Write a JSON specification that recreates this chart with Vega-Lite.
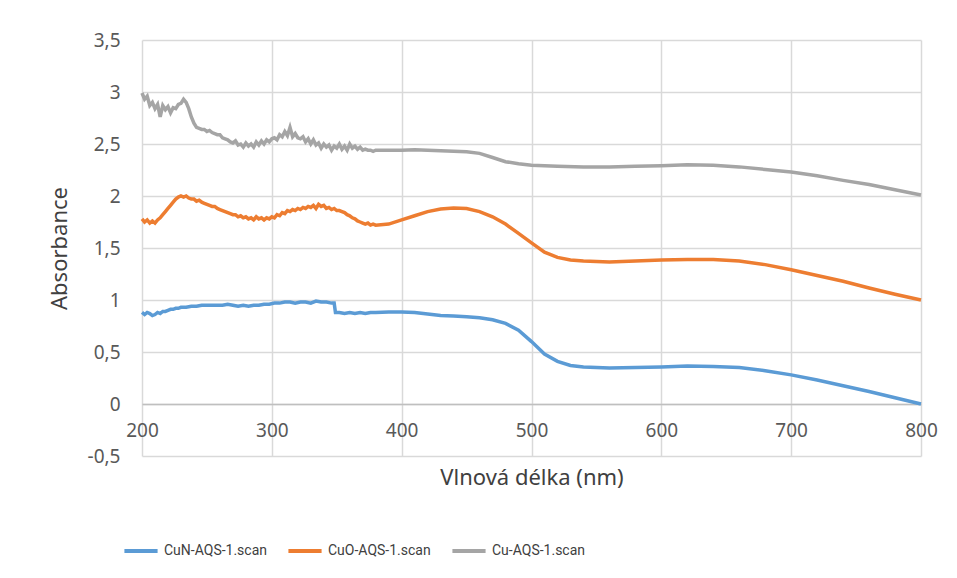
{
  "$schema": "https://vega.github.io/schema/vega-lite/v6.json",
  "autosize": {"type": "none"},
  "padding": {"left": 142, "top": 40, "right": 36, "bottom": 122},
  "width": 779,
  "height": 416,
  "background": "white",
  "config": {
    "view": {"stroke": null},
    "font": "Noto Sans"
  },
  "datasets": {
    "cun": [
      {"nm":200,"abs":0.88},{"nm":202,"abs":0.86},{"nm":204,"abs":0.88},{"nm":206,"abs":0.87},{"nm":208,"abs":0.85},{"nm":210,"abs":0.86},{"nm":212,"abs":0.88},{"nm":214,"abs":0.87},{"nm":216,"abs":0.89},{"nm":218,"abs":0.89},{"nm":220,"abs":0.9},{"nm":222,"abs":0.91},{"nm":224,"abs":0.91},{"nm":226,"abs":0.92},{"nm":228,"abs":0.92},{"nm":230,"abs":0.93},{"nm":234,"abs":0.93},{"nm":238,"abs":0.94},{"nm":242,"abs":0.94},{"nm":246,"abs":0.95},{"nm":250,"abs":0.95},{"nm":254,"abs":0.95},{"nm":258,"abs":0.95},{"nm":262,"abs":0.95},{"nm":266,"abs":0.96},{"nm":270,"abs":0.95},{"nm":274,"abs":0.94},{"nm":278,"abs":0.95},{"nm":282,"abs":0.94},{"nm":286,"abs":0.95},{"nm":290,"abs":0.95},{"nm":294,"abs":0.96},{"nm":298,"abs":0.96},{"nm":302,"abs":0.97},{"nm":306,"abs":0.97},{"nm":310,"abs":0.98},{"nm":314,"abs":0.98},{"nm":318,"abs":0.97},{"nm":322,"abs":0.98},{"nm":326,"abs":0.98},{"nm":330,"abs":0.97},{"nm":334,"abs":0.99},{"nm":338,"abs":0.98},{"nm":342,"abs":0.98},{"nm":346,"abs":0.97},{"nm":348,"abs":0.97},{"nm":349,"abs":0.88},{"nm":352,"abs":0.88},{"nm":356,"abs":0.87},{"nm":360,"abs":0.88},{"nm":364,"abs":0.87},{"nm":368,"abs":0.88},{"nm":372,"abs":0.87},{"nm":376,"abs":0.88},{"nm":380,"abs":0.88},{"nm":390,"abs":0.885},{"nm":400,"abs":0.885},{"nm":410,"abs":0.88},{"nm":420,"abs":0.865},{"nm":430,"abs":0.85},{"nm":440,"abs":0.845},{"nm":450,"abs":0.84},{"nm":460,"abs":0.83},{"nm":470,"abs":0.81},{"nm":480,"abs":0.775},{"nm":490,"abs":0.71},{"nm":500,"abs":0.6},{"nm":510,"abs":0.48},{"nm":520,"abs":0.41},{"nm":530,"abs":0.37},{"nm":540,"abs":0.355},{"nm":560,"abs":0.345},{"nm":580,"abs":0.35},{"nm":600,"abs":0.355},{"nm":620,"abs":0.365},{"nm":640,"abs":0.36},{"nm":660,"abs":0.35},{"nm":680,"abs":0.32},{"nm":700,"abs":0.28},{"nm":720,"abs":0.23},{"nm":740,"abs":0.175},{"nm":760,"abs":0.12},{"nm":780,"abs":0.06},{"nm":800,"abs":0.0}
    ],
    "cuo": [
      {"nm":200,"abs":1.78},{"nm":202,"abs":1.75},{"nm":204,"abs":1.77},{"nm":206,"abs":1.74},{"nm":208,"abs":1.76},{"nm":210,"abs":1.74},{"nm":212,"abs":1.77},{"nm":214,"abs":1.79},{"nm":216,"abs":1.82},{"nm":218,"abs":1.85},{"nm":220,"abs":1.88},{"nm":222,"abs":1.91},{"nm":224,"abs":1.94},{"nm":226,"abs":1.97},{"nm":228,"abs":1.99},{"nm":230,"abs":2.0},{"nm":232,"abs":1.99},{"nm":234,"abs":2.0},{"nm":236,"abs":1.98},{"nm":238,"abs":1.97},{"nm":240,"abs":1.97},{"nm":242,"abs":1.95},{"nm":244,"abs":1.96},{"nm":246,"abs":1.94},{"nm":248,"abs":1.93},{"nm":250,"abs":1.92},{"nm":252,"abs":1.91},{"nm":254,"abs":1.9},{"nm":256,"abs":1.9},{"nm":258,"abs":1.88},{"nm":260,"abs":1.87},{"nm":262,"abs":1.86},{"nm":264,"abs":1.85},{"nm":266,"abs":1.84},{"nm":268,"abs":1.83},{"nm":270,"abs":1.82},{"nm":272,"abs":1.82},{"nm":274,"abs":1.8},{"nm":276,"abs":1.81},{"nm":278,"abs":1.79},{"nm":280,"abs":1.8},{"nm":282,"abs":1.78},{"nm":284,"abs":1.79},{"nm":286,"abs":1.77},{"nm":288,"abs":1.8},{"nm":290,"abs":1.78},{"nm":292,"abs":1.79},{"nm":294,"abs":1.77},{"nm":296,"abs":1.79},{"nm":298,"abs":1.78},{"nm":300,"abs":1.8},{"nm":302,"abs":1.79},{"nm":304,"abs":1.82},{"nm":306,"abs":1.81},{"nm":308,"abs":1.84},{"nm":310,"abs":1.83},{"nm":312,"abs":1.86},{"nm":314,"abs":1.85},{"nm":316,"abs":1.87},{"nm":318,"abs":1.86},{"nm":320,"abs":1.88},{"nm":322,"abs":1.87},{"nm":324,"abs":1.89},{"nm":326,"abs":1.88},{"nm":328,"abs":1.9},{"nm":330,"abs":1.89},{"nm":332,"abs":1.91},{"nm":334,"abs":1.88},{"nm":336,"abs":1.92},{"nm":338,"abs":1.9},{"nm":340,"abs":1.91},{"nm":342,"abs":1.88},{"nm":344,"abs":1.89},{"nm":346,"abs":1.87},{"nm":348,"abs":1.88},{"nm":350,"abs":1.86},{"nm":352,"abs":1.86},{"nm":354,"abs":1.85},{"nm":356,"abs":1.84},{"nm":358,"abs":1.82},{"nm":360,"abs":1.81},{"nm":362,"abs":1.79},{"nm":364,"abs":1.78},{"nm":366,"abs":1.76},{"nm":368,"abs":1.75},{"nm":370,"abs":1.74},{"nm":372,"abs":1.73},{"nm":374,"abs":1.74},{"nm":376,"abs":1.72},{"nm":378,"abs":1.73},{"nm":380,"abs":1.72},{"nm":390,"abs":1.73},{"nm":400,"abs":1.77},{"nm":410,"abs":1.81},{"nm":420,"abs":1.85},{"nm":430,"abs":1.875},{"nm":440,"abs":1.885},{"nm":450,"abs":1.88},{"nm":460,"abs":1.85},{"nm":470,"abs":1.8},{"nm":480,"abs":1.73},{"nm":490,"abs":1.64},{"nm":500,"abs":1.55},{"nm":510,"abs":1.46},{"nm":520,"abs":1.41},{"nm":530,"abs":1.385},{"nm":540,"abs":1.375},{"nm":560,"abs":1.365},{"nm":580,"abs":1.375},{"nm":600,"abs":1.385},{"nm":620,"abs":1.39},{"nm":640,"abs":1.39},{"nm":660,"abs":1.375},{"nm":680,"abs":1.34},{"nm":700,"abs":1.29},{"nm":720,"abs":1.235},{"nm":740,"abs":1.18},{"nm":760,"abs":1.115},{"nm":780,"abs":1.055},{"nm":800,"abs":1.0}
    ],
    "cu": [
      {"nm":200,"abs":2.99},{"nm":202,"abs":2.93},{"nm":204,"abs":2.96},{"nm":206,"abs":2.87},{"nm":208,"abs":2.9},{"nm":210,"abs":2.84},{"nm":212,"abs":2.88},{"nm":214,"abs":2.76},{"nm":216,"abs":2.87},{"nm":218,"abs":2.83},{"nm":220,"abs":2.86},{"nm":222,"abs":2.8},{"nm":224,"abs":2.85},{"nm":226,"abs":2.84},{"nm":228,"abs":2.88},{"nm":230,"abs":2.89},{"nm":232,"abs":2.93},{"nm":234,"abs":2.9},{"nm":236,"abs":2.84},{"nm":238,"abs":2.76},{"nm":240,"abs":2.7},{"nm":242,"abs":2.66},{"nm":244,"abs":2.65},{"nm":246,"abs":2.64},{"nm":248,"abs":2.64},{"nm":250,"abs":2.62},{"nm":252,"abs":2.63},{"nm":254,"abs":2.61},{"nm":256,"abs":2.6},{"nm":258,"abs":2.59},{"nm":260,"abs":2.59},{"nm":262,"abs":2.56},{"nm":264,"abs":2.55},{"nm":266,"abs":2.54},{"nm":268,"abs":2.52},{"nm":270,"abs":2.51},{"nm":272,"abs":2.53},{"nm":274,"abs":2.49},{"nm":276,"abs":2.5},{"nm":278,"abs":2.47},{"nm":280,"abs":2.51},{"nm":282,"abs":2.48},{"nm":284,"abs":2.5},{"nm":286,"abs":2.47},{"nm":288,"abs":2.52},{"nm":290,"abs":2.49},{"nm":292,"abs":2.53},{"nm":294,"abs":2.5},{"nm":296,"abs":2.54},{"nm":298,"abs":2.52},{"nm":300,"abs":2.55},{"nm":302,"abs":2.56},{"nm":304,"abs":2.54},{"nm":306,"abs":2.59},{"nm":308,"abs":2.57},{"nm":310,"abs":2.62},{"nm":312,"abs":2.58},{"nm":314,"abs":2.66},{"nm":316,"abs":2.57},{"nm":318,"abs":2.6},{"nm":320,"abs":2.56},{"nm":322,"abs":2.55},{"nm":324,"abs":2.57},{"nm":326,"abs":2.52},{"nm":328,"abs":2.55},{"nm":330,"abs":2.5},{"nm":332,"abs":2.54},{"nm":334,"abs":2.49},{"nm":336,"abs":2.51},{"nm":338,"abs":2.46},{"nm":340,"abs":2.5},{"nm":342,"abs":2.47},{"nm":344,"abs":2.49},{"nm":346,"abs":2.44},{"nm":348,"abs":2.48},{"nm":350,"abs":2.46},{"nm":352,"abs":2.5},{"nm":354,"abs":2.45},{"nm":356,"abs":2.48},{"nm":358,"abs":2.44},{"nm":360,"abs":2.5},{"nm":362,"abs":2.46},{"nm":364,"abs":2.48},{"nm":366,"abs":2.45},{"nm":368,"abs":2.47},{"nm":370,"abs":2.44},{"nm":372,"abs":2.45},{"nm":374,"abs":2.44},{"nm":376,"abs":2.44},{"nm":378,"abs":2.43},{"nm":380,"abs":2.44},{"nm":390,"abs":2.44},{"nm":400,"abs":2.44},{"nm":410,"abs":2.445},{"nm":420,"abs":2.44},{"nm":430,"abs":2.435},{"nm":440,"abs":2.43},{"nm":450,"abs":2.425},{"nm":460,"abs":2.41},{"nm":470,"abs":2.37},{"nm":480,"abs":2.33},{"nm":490,"abs":2.31},{"nm":500,"abs":2.295},{"nm":510,"abs":2.29},{"nm":520,"abs":2.285},{"nm":540,"abs":2.28},{"nm":560,"abs":2.28},{"nm":580,"abs":2.285},{"nm":600,"abs":2.29},{"nm":620,"abs":2.3},{"nm":640,"abs":2.295},{"nm":660,"abs":2.28},{"nm":680,"abs":2.255},{"nm":700,"abs":2.23},{"nm":720,"abs":2.195},{"nm":740,"abs":2.15},{"nm":760,"abs":2.11},{"nm":780,"abs":2.06},{"nm":800,"abs":2.01}
    ]
  },
  "encoding": {
    "x": {
      "field": "nm", "type": "quantitative",
      "scale": {"domain": [200, 800], "nice": false, "zero": false},
      "axis": {
        "title": "Vlnová délka (nm)",
        "values": [200, 300, 400, 500, 600, 700, 800],
        "offset": -52,
        "grid": true, "gridColor": "#d9d9d9", "gridWidth": 1.5,
        "domainColor": "#bfbfbf", "domainWidth": 1.5,
        "ticks": false,
        "labelFlush": false,
        "labelPadding": 17, "labelFontSize": 19, "labelColor": "#595959", "labelFont": "Noto Sans",
        "titleFontSize": 22, "titleFontWeight": "normal", "titleColor": "#404040", "titleFont": "Noto Sans",
        "titlePadding": 27
      }
    },
    "y": {
      "field": "abs", "type": "quantitative",
      "scale": {"domain": [-0.5, 3.5], "nice": false, "zero": false},
      "axis": {
        "title": "Absorbance",
        "values": [-0.5, 0, 0.5, 1, 1.5, 2, 2.5, 3, 3.5],
        "labelExpr": "replace(datum.value + '', '.', ',')",
        "domain": false, "ticks": false,
        "grid": true, "gridColor": "#d9d9d9", "gridWidth": 1.5,
        "labelPadding": 22, "labelFontSize": 19, "labelColor": "#595959", "labelFont": "Noto Sans",
        "titleFontSize": 22, "titleFontWeight": "normal", "titleColor": "#404040", "titleFont": "Noto Sans",
        "titlePadding": 16
      }
    }
  },
  "layer": [
    {
      "data": {"name": "cun"},
      "mark": {"type": "line", "strokeWidth": 3.5},
      "encoding": {"color": {"datum": "CuN-AQS-1.scan"}}
    },
    {
      "data": {"name": "cuo"},
      "mark": {"type": "line", "strokeWidth": 3.5},
      "encoding": {"color": {"datum": "CuO-AQS-1.scan"}}
    },
    {
      "data": {"name": "cu"},
      "mark": {"type": "line", "strokeWidth": 3.5},
      "encoding": {
        "color": {
          "datum": "Cu-AQS-1.scan",
          "type": "nominal",
          "scale": {
            "domain": ["CuN-AQS-1.scan", "CuO-AQS-1.scan", "Cu-AQS-1.scan"],
            "range": ["#5B9BD5", "#ED7D31", "#A5A5A5"]
          },
          "legend": {
            "title": null,
            "orient": "none",
            "legendX": -20,
            "legendY": 492,
            "direction": "horizontal",
            "columns": 3,
            "gridAlign": "all",
            "columnPadding": 12,
            "symbolType": "stroke",
            "symbolSize": 1100,
            "symbolStrokeWidth": 4,
            "labelFontSize": 14,
            "labelColor": "#404040",
            "labelFont": "Roboto",
            "labelOffset": 4,
            "labelLimit": 0
          }
        }
      }
    }
  ]
}
